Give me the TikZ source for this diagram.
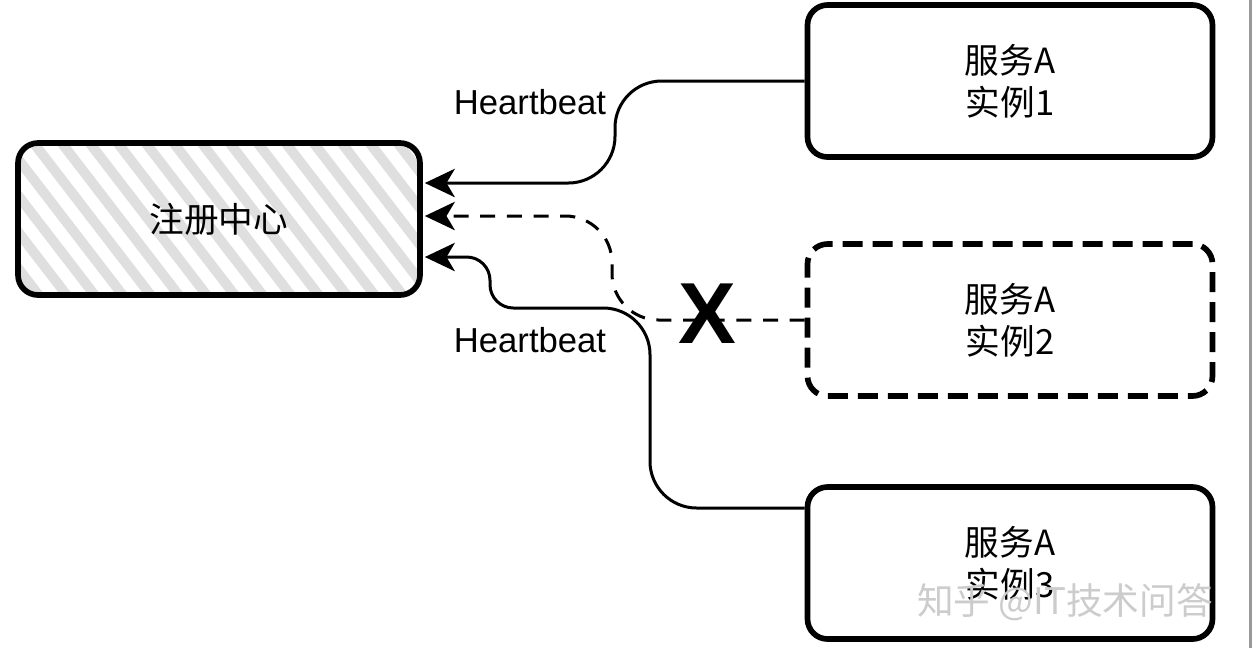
\documentclass[tikz,border=0pt]{standalone}
\usepackage{fontspec}
\setmainfont{Liberation Sans}
\newfontfamily\cjk{Noto Sans CJK SC}
\usetikzlibrary{calc, arrows.meta, positioning}

\begin{document}
\begin{tikzpicture}[x=0.3pt, y=-0.3pt,
  box/.style={draw, line width=1.7pt, rounded corners=6pt, minimum width=121.5pt,
    minimum height=45.6pt, align=center, font=\cjk\fontsize{10.4}{12.6}\selectfont},
  beat/.style={line width=0.9pt, -{Stealth[length=9pt,width=8.5pt,inset=2.5pt]}},
  lbl/.style={font=\fontsize{10.4}{12.6}\selectfont}]
\useasboundingbox (0,0) rectangle (1253,648);
\fill[white] (0,0) rectangle (1253,648);
\draw[gray!80, line width=0.9pt] (1250,0) -- (1250,648);
% registry with hatch
\node[box, minimum width=120.6pt, path picture={
  \foreach \k in {-300,-272,...,440}
    \draw[line width=3pt, gray!25] ($(path picture bounding box.north west)+(\k,-10)$) -- ++(200,260);
  }] (reg) at (219,219) {注册中心};
% instances
\node[box] (a1) at (1010,81) {服务A\\实例1};
\node[box, dash pattern=on 6pt off 3pt] (a2) at (1010,320) {服务A\\实例2};
\node[box] (a3) at (1010,563) {服务A\\实例3};
\coordinate (in1) at ($(reg.east)+(2,-36)$);
\coordinate (in2) at ($(reg.east)+(2,-3)$);
\coordinate (in3) at ($(reg.east)+(2,38)$);
\coordinate (out3) at ($(a3.west)+(0,-55)$);
\coordinate (bend1) at (615,0);
\coordinate (bend2) at (612,0);
\coordinate (bend3) at (650,308);
\coordinate (bend4) at (490,0);
% heartbeats
\draw[beat, rounded corners=14pt] (a1.west) -| (bend1 |- in1) -- (in1);
\draw[beat, dash pattern=on 4.5pt off 3.5pt, rounded corners=14pt] (a2.west) -| (bend2 |- in2) -- (in2);
\draw[beat, rounded corners=14pt] (out3) -| (bend3) [rounded corners=7pt] -| (bend4 |- in3) -- (in3);
\node[lbl] (hb1) at (530,102) {Heartbeat};
\node[lbl] (hb3) at (530,340) {Heartbeat};
\node[font=\bfseries\fontsize{26}{26}\selectfont, inner sep=0pt] (cross) at (707,314) {X};
% watermark
\node[text=gray!40, font=\cjk\fontsize{11}{11}\selectfont] (mark) at (1065,602) {知乎 @IT技术问答};
\end{tikzpicture}
\end{document}
